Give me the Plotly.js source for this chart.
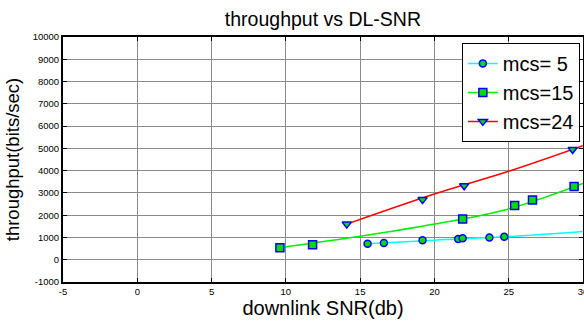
<!DOCTYPE html>
<html><head><meta charset="utf-8">
<script src="https://cdn.plot.ly/plotly-3.0.1.min.js"></script>
<style>html,body{margin:0;padding:0;background:#fff}#chart{width:584px;height:323px}</style>
</head><body><div id="chart"></div>
<script>
// Measured points
const mcs5X = [15.5, 16.6, 19.2, 21.6, 21.9, 23.7, 24.7];
const mcs5Y = [720, 750, 870, 930, 960, 1000, 1035];
const mcs15X = [9.6, 11.8, 21.9, 25.4, 26.6, 29.4];
const mcs15Y = [540, 675, 1830, 2430, 2680, 3290];
const mcs24X = [14.1, 19.2, 22.0, 29.3];
const mcs24Y = [1600, 2700, 3320, 4950];
// Fitted curves
const fit5X = [15.5, 20, 25, 30];
const fit5Y = [720, 880, 1040, 1270];
const fit15X = [9.6, 15, 20, 25, 30];
const fit15Y = [540, 1050, 1600, 2280, 3420];
const fit24X = [14.1, 20, 25, 30];
const fit24Y = [1600, 2950, 3970, 5120];
const seriesNames = ['mcs= 5', 'mcs=15', 'mcs=24'];
const xTicks = [-5, 0, 5, 10, 15, 20, 25, 30];
const yTicks = [-1000, 0, 1000, 2000, 3000, 4000, 5000, 6000, 7000, 8000, 9000, 10000];

const lineColors = ['#00ffff', '#00ee00', '#ff0000'];
const symbols = ['circle', 'square', 'triangle-down'];
const mk = i => ({symbol: symbols[i], size: i === 0 ? 7 : 8, color: '#00dd00', line: {color: '#0000ff', width: 1.5}});

const fits = [[fit5X, fit5Y], [fit15X, fit15Y], [fit24X, fit24Y]];
const pts = [[mcs5X, mcs5Y], [mcs15X, mcs15Y], [mcs24X, mcs24Y]];
const traces = [];
for (let i = 0; i < 3; i++) {
  traces.push({x: fits[i][0], y: fits[i][1], mode: 'lines', line: {color: lineColors[i], width: 1.5, shape: 'spline'}, showlegend: false, hoverinfo: 'skip'});
}
for (let i = 0; i < 3; i++) {
  traces.push({x: pts[i][0], y: pts[i][1], mode: 'markers', marker: mk(i), showlegend: false});
}
for (let i = 0; i < 3; i++) {
  traces.push({x: [null], y: [null], mode: 'lines+markers', name: seriesNames[i], line: {color: lineColors[i], width: 1.5}, marker: mk(i)});
}

const axisCommon = {
  showline: true, linecolor: '#000', linewidth: 2, mirror: 'ticks',
  ticks: 'inside', ticklen: 4, tickcolor: '#000',
  showgrid: true, gridcolor: '#8a8a8a', gridwidth: 1, zeroline: false,
  ticklabeloverflow: 'allow',
  tickfont: {family: 'Arial, Liberation Sans, sans-serif', size: 9.5, color: '#000'}
};
const layout = {
  width: 584, height: 323,
  margin: {l: 63, r: 1, t: 37, b: 41},
  paper_bgcolor: '#fff', plot_bgcolor: '#fff',
  font: {family: 'Arial, Liberation Sans, sans-serif', color: '#000'},
  title: {text: 'throughput vs DL-SNR', font: {size: 19.5, color: '#000'}, x: 0.553, xanchor: 'center', y: 0.94, yanchor: 'middle'},
  xaxis: Object.assign({}, axisCommon, {range: [-5, 30], tickvals: xTicks, ticktext: xTicks.map(String),
    title: {text: 'downlink SNR(db)', font: {size: 20}, standoff: 2}}),
  yaxis: Object.assign({}, axisCommon, {range: [-1000, 10000], tickvals: yTicks, ticktext: yTicks.map(String),
    title: {text: 'throughput(bits/sec)', font: {size: 18.5}, standoff: 8}}),
  legend: {x: 0.767, y: 0.976, xanchor: 'left', yanchor: 'top', bgcolor: '#fff', bordercolor: '#000', borderwidth: 1,
    font: {size: 20, color: '#000'}, tracegroupgap: 0}
};
Plotly.newPlot('chart', traces, layout, {displayModeBar: false, staticPlot: true});
</script>
</body></html>
